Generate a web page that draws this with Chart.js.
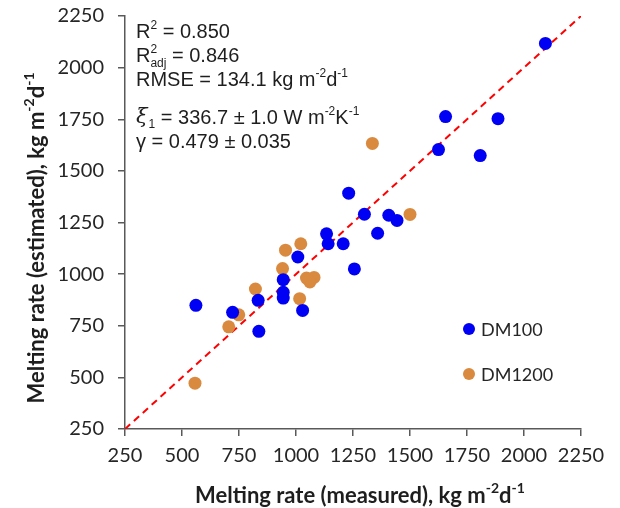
<!DOCTYPE html>
<html>
<head>
<meta charset="utf-8">
<script src="https://cdn.jsdelivr.net/npm/chart.js@4.4.1/dist/chart.umd.min.js"></script>
<style>
  body { margin: 0; background: #fff; }
  #wrap { width: 620px; height: 508px; }
</style>
</head>
<body>
<div id="wrap"><canvas id="chart" width="620" height="508"></canvas></div>
<script>
// measured vs estimated melting rate, kg m-2 d-1
const dm100Measured  = [2094, 1656, 1886, 1625, 1808, 1231, 1300, 1407, 1443, 1358, 1134, 1141, 1207, 1008, 1256, 944, 944, 944, 1029, 834, 722, 837, 561];
const dm100Estimated = [2117, 1763, 1753, 1603, 1574, 1392, 1290, 1285, 1260, 1198, 1195, 1147, 1147, 1083, 1025, 973, 912, 884, 824, 873, 815, 723, 849];

const dm1200Measured  = [1335, 1500, 954, 1021, 941, 1046, 1079, 1061, 1016, 822, 749, 705, 557];
const dm1200Estimated = [1633, 1289, 1116, 1147, 1027, 981, 984, 962, 881, 928, 803, 745, 472];

const oneToOne = [250, 2250];
const axisTicks = [250, 500, 750, 1000, 1250, 1500, 1750, 2000, 2250];

const seriesNames = ['DM100', 'DM1200'];
const seriesColors = ['#0000f5', '#da8a3f'];

const statsLines = [
  [{ t: 'R' }, { t: '2', sup: true }, { t: ' = 0.850' }],
  [{ t: 'R' }, { t: '2', sup: true, stackSub: 'adj' }, { t: ' = 0.846' }],
  [{ t: 'RMSE = 134.1 kg m' }, { t: '-2', sup: true }, { t: 'd' }, { t: '-1', sup: true }],
  [{ t: 'ξ', greek: true }, { t: '1', sub: true }, { t: ' = 336.7 ± 1.0 W m' }, { t: '-2', sup: true }, { t: 'K' }, { t: '-1', sup: true }],
  [{ t: 'γ = 0.479 ± 0.035' }]
];

function toPoints(xs, ys) {
  return xs.map((x, i) => ({ x: x, y: ys[i] }));
}

// draw a line of text with superscripts / subscripts
function drawRuns(ctx, x, y, runs, size, family, weight) {
  ctx.textBaseline = 'middle';
  ctx.textAlign = 'left';
  const small = Math.round(size * 0.62);
  runs.forEach(r => {
    if (r.sup) {
      ctx.font = weight + ' ' + small + 'px ' + family;
      ctx.fillText(r.t, x, y - size * 0.33);
      let w = ctx.measureText(r.t).width;
      if (r.stackSub) {
        ctx.fillText(r.stackSub, x, y + size * 0.4);
        w = Math.max(w, ctx.measureText(r.stackSub).width);
      }
      x += w;
    } else if (r.sub) {
      ctx.font = weight + ' ' + small + 'px ' + family;
      ctx.fillText(r.t, x, y + size * 0.35);
      x += ctx.measureText(r.t).width;
    } else if (r.greek) {
      ctx.font = 'italic ' + (size + 1) + 'px "DejaVu Serif"';
      ctx.fillText(r.t, x, y);
      x += ctx.measureText(r.t).width + 1;
    } else {
      ctx.font = weight + ' ' + size + 'px ' + family;
      ctx.fillText(r.t, x, y);
      x += ctx.measureText(r.t).width;
    }
  });
  return x;
}

function runsWidth(ctx, runs, size, family, weight) {
  const small = Math.round(size * 0.62);
  let w = 0;
  ctx.save();
  runs.forEach(r => {
    ctx.font = weight + ' ' + ((r.sup || r.sub) ? small : size) + 'px ' + family;
    w += ctx.measureText(r.t).width;
  });
  ctx.restore();
  return w;
}

const xTitle = [{ t: 'Melting rate (measured), kg m' }, { t: '-2', sup: true }, { t: 'd' }, { t: '-1', sup: true }];
const yTitle = [{ t: 'Melting rate (estimated), kg m' }, { t: '-2', sup: true }, { t: 'd' }, { t: '-1', sup: true }];

const textPlugin = {
  id: 'textPlugin',
  afterDraw(chart) {
    const ctx = chart.ctx;
    ctx.save();
    ctx.fillStyle = '#1e1e1e';

    // stats box
    const ys = [32, 56, 80, 118, 142];
    statsLines.forEach((runs, i) => {
      drawRuns(ctx, 136, ys[i], runs, 20, '"Liberation Sans", Arial, sans-serif', 'normal');
    });

    // axis titles
    const fam = 'Lato, sans-serif';
    const xw = runsWidth(ctx, xTitle, 22, fam, 'bold');
    drawRuns(ctx, 360 - xw / 2, 496, xTitle, 22, fam, 'bold');

    ctx.save();
    ctx.translate(37, 238);
    ctx.rotate(-Math.PI / 2);
    const yw = runsWidth(ctx, yTitle, 22, fam, 'bold');
    drawRuns(ctx, -yw / 2, 0, yTitle, 22, fam, 'bold');
    ctx.restore();

    // legend
    const legendY = [329, 374];
    seriesNames.forEach((name, i) => {
      ctx.beginPath();
      ctx.fillStyle = seriesColors[i];
      ctx.arc(469, legendY[i], 6, 0, Math.PI * 2);
      ctx.fill();
      ctx.fillStyle = '#262626';
      ctx.font = '18px Lato, sans-serif';
      ctx.textBaseline = 'middle';
      ctx.fillText(name, 481, legendY[i] + 1);
    });
    ctx.restore();
  }
};

const axisStyle = {
  type: 'linear',
  min: 250,
  max: 2250,
  afterBuildTicks(scale) {
    scale.ticks = axisTicks.map(v => ({ value: v }));
  },
  ticks: {
    color: '#262626',
    font: { family: 'Lato', size: 20 },
    callback: v => String(v)
  },
  grid: {
    display: true,
    drawOnChartArea: false,
    drawTicks: true,
    tickLength: 7,
    color: '#595959',
    lineWidth: 1.5
  },
  border: { display: true, color: '#595959', width: 1.5 }
};

new Chart(document.getElementById('chart'), {
  type: 'scatter',
  data: {
    datasets: [
      {
        label: seriesNames[0],
        data: toPoints(dm100Measured, dm100Estimated),
        backgroundColor: seriesColors[0],
        borderWidth: 0,
        pointRadius: 6.5
      },
      {
        label: seriesNames[1],
        data: toPoints(dm1200Measured, dm1200Estimated),
        backgroundColor: seriesColors[1],
        borderWidth: 0,
        pointRadius: 6.5
      },
      {
        label: '1:1',
        type: 'line',
        data: toPoints(oneToOne, oneToOne),
        borderColor: '#ff0000',
        borderWidth: 2,
        borderDash: [7, 5],
        pointRadius: 0,
        fill: false
      }
    ]
  },
  options: {
    responsive: false,
    animation: false,
    layout: { padding: { top: 16, right: 39, left: 0, bottom: 0 } },
    plugins: {
      legend: { display: false },
      tooltip: { enabled: false }
    },
    scales: {
      x: Object.assign({}, axisStyle, {
        ticks: Object.assign({}, axisStyle.ticks, { padding: 8, maxRotation: 0 }),
        afterFit(scale) {
          scale.height = 79;
          scale.paddingLeft = 0;
          scale.paddingRight = 0;
        }
      }),
      y: Object.assign({}, axisStyle, {
        ticks: Object.assign({}, axisStyle.ticks, { padding: 14 }),
        afterFit(scale) {
          scale.width = 125;
          scale.paddingTop = 0;
          scale.paddingBottom = 0;
        }
      })
    }
  },
  plugins: [textPlugin]
});
</script>
</body>
</html>
